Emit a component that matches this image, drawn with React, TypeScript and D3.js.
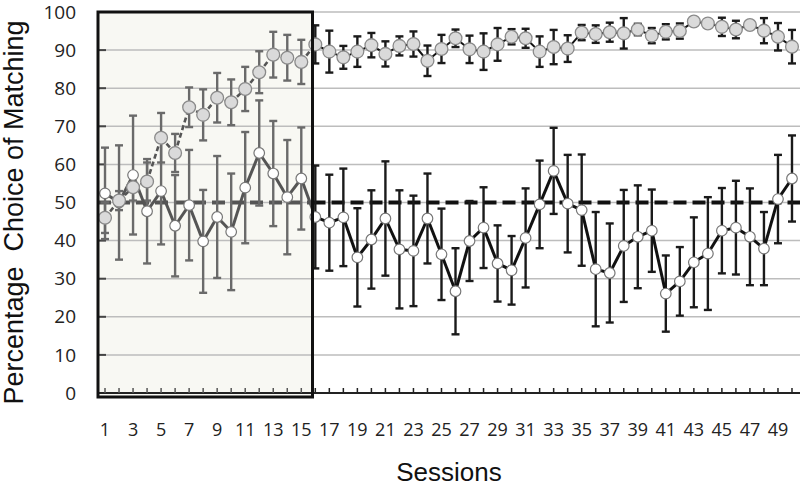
import * as d3 from "d3";

// sessions 1..50
const sessions = d3.range(1, 51);
const tickSessions = d3.range(1, 50, 2);
const yTicks = d3.range(0, 101, 10);
const gridTicks = d3.range(10, 101, 10);

// grey markers (matching series)
const greyMean = [
  46, 50.5, 54, 55.5, 67, 63, 75, 73, 77.5, 76.3,
  79.8, 84.2, 88.8, 88, 86.9, 91.5, 89.6, 88.1, 89.6, 91.3,
  89, 91.1, 91.6, 87.2, 90.3, 93.1, 90.2, 89.6, 91.5, 93.5,
  93.1, 89.6, 90.8, 90.4, 94.6, 94.2, 94.7, 94.4, 95.4, 93.8,
  94.8, 95, 97.5, 97, 96.1, 95.4, 96.6, 95.1, 93.5, 90.9,
];
const greyErr = [
  4, 2.5, 3.5, 5, 6.5, 5, 5.2, 6.7, 6.5, 6,
  5.8, 5.5, 6, 6, 5.8, 5, 5.5, 3, 4, 3.2,
  3.3, 2.5, 3.3, 4, 3.7, 2.3, 3.6, 4.8, 4.3, 2,
  2.5, 4, 4.5, 3.5, 2, 2.3, 2.5, 4, 1.5, 2,
  2, 2, 1, 1, 2.4, 2.3, 1, 3.3, 3.6, 4.4,
];

// white markers
const whiteMean = [
  52.4, 50, 57.2, 47.7, 53, 43.9, 49.3, 39.8, 46.2, 42.3,
  53.9, 63, 57.6, 51.4, 56.3, 46.2, 44.7, 46.1, 35.6, 40.3,
  45.8, 37.7, 37.3, 45.8, 36.4, 26.7, 39.9, 43.4, 34, 32.2,
  40.7, 49.5, 58.3, 49.7, 48, 32.5, 31.5, 38.6, 41, 42.6,
  26.1, 29.3, 34.3, 36.6, 42.6, 43.4, 41, 37.9, 50.9, 56.3,
];
const whiteErr = [
  12, 15, 15.6, 13.7, 14, 13.3, 14.5, 13.5, 16, 15.3,
  14.6, 13.8, 13.8, 15, 13.4, 13.5, 12.6, 12.8, 12.9, 12.9,
  15, 15.5, 14.5, 11.8, 12, 11.3, 10.5, 10.6, 10, 9,
  13, 11.5, 11.3, 12.8, 14.6, 15, 13, 14.7, 13.5, 10.8,
  10, 9, 11.8, 14.8, 11.2, 12.3, 12.7, 9.6, 11.6, 11.3,
];

const chance = 50;
const baselineEnd = 15.8; // shaded baseline phase

export default function App() {
  const W = 800,
    H = 487;
  const x = d3.scaleLinear().domain([0.5, 50.5]).range([98, 799]);
  const y = d3.scaleLinear().domain([0, 100]).range([393, 12]);

  const inBox = (s: number) => s <= 15;
  const barColor = (s: number) => (inBox(s) ? "#6a6a6a" : "#1a1a1a");
  const lineColor = (s: number) => (inBox(s) ? "#555" : "#111");

  const errBar = (s: number, m: number, e: number, key: string) => (
    <g key={key} stroke={barColor(s)} strokeWidth={2.4}>
      <line x1={x(s)} x2={x(s)} y1={y(m - e)} y2={y(m + e)} />
      <line x1={x(s) - 4} x2={x(s) + 4} y1={y(m - e)} y2={y(m - e)} />
      <line x1={x(s) - 4} x2={x(s) + 4} y1={y(m + e)} y2={y(m + e)} />
    </g>
  );

  const pairs = d3.pairs(sessions);

  return (
    <svg
      width={W}
      height={H}
      style={{ position: "absolute", left: 0, top: 0, background: "#fff" }}
    >
      {/* baseline shading */}
      <rect
        x={x(0.5)}
        y={y(100)}
        width={x(baselineEnd) - x(0.5)}
        height={397 - y(100)}
        fill="#f8f8f3"
      />
      {/* gridlines */}
      {gridTicks.map((t) => (
        <line key={t} x1={x(0.5)} x2={W} y1={y(t)} y2={y(t)} stroke="#bdbdbd" strokeWidth={1.5} />
      ))}
      {/* y ticks inside */}
      {gridTicks.map((t) => (
        <line key={"yt" + t} x1={x(0.5)} x2={x(0.5) + 8} y1={y(t)} y2={y(t)} stroke="#444" strokeWidth={2} />
      ))}
      {/* x axis */}
      <line x1={x(0.5)} x2={W} y1={y(0)} y2={y(0)} stroke="#222" strokeWidth={2} />
      {sessions.map((s) => (
        <line key={"xt" + s} x1={x(s)} x2={x(s)} y1={y(0)} y2={y(0) - 5} stroke={inBox(s) ? "#555" : "#222"} strokeWidth={1.5} />
      ))}
      {/* chance line */}
      <line
        x1={x(0.5)}
        x2={x(baselineEnd)}
        y1={y(chance)}
        y2={y(chance)}
        stroke="#555"
        strokeWidth={4}
        strokeDasharray="13,6"
      />
      <line
        x1={x(baselineEnd)}
        x2={W}
        y1={y(chance)}
        y2={y(chance)}
        stroke="#111"
        strokeWidth={4}
        strokeDasharray="13,6"
      />
      {/* error bars */}
      {sessions.map((s, i) => errBar(s, whiteMean[i], whiteErr[i], "we" + s))}
      {sessions.map((s, i) => errBar(s, greyMean[i], greyErr[i], "ge" + s))}
      {/* white series line */}
      {pairs.map(([a, b]) => (
        <line
          key={"wl" + a}
          x1={x(a)}
          x2={x(b)}
          y1={y(whiteMean[a - 1])}
          y2={y(whiteMean[b - 1])}
          stroke={lineColor(a)}
          strokeWidth={3}
        />
      ))}
      {/* grey series line */}
      {pairs.map(([a, b]) => (
        <line
          key={"gl" + a}
          x1={x(a)}
          x2={x(b)}
          y1={y(greyMean[a - 1])}
          y2={y(greyMean[b - 1])}
          stroke={lineColor(a)}
          strokeWidth={inBox(a) ? 2.6 : 2}
          strokeDasharray={inBox(a) ? "5,3" : undefined}
        />
      ))}
      {/* markers */}
      {sessions.map((s, i) => (
        <circle key={"wc" + s} cx={x(s)} cy={y(whiteMean[i])} r={5.3} fill="#fff" stroke="#777" strokeWidth={1.2} />
      ))}
      {sessions.map((s, i) => (
        <circle key={"gc" + s} cx={x(s)} cy={y(greyMean[i])} r={6.4} fill="#dadada" stroke="#8a8a8a" strokeWidth={1.3} />
      ))}
      {/* baseline frame */}
      <rect
        x={x(0.5)}
        y={y(100)}
        width={x(baselineEnd) - x(0.5)}
        height={397 - y(100)}
        fill="none"
        stroke="#111"
        strokeWidth={3}
      />
      {/* tick labels */}
      {yTicks.map((t) => (
        <text
          key={"yl" + t}
          x={76}
          y={y(t)}
          dy="0.35em"
          textAnchor="end"
          fontFamily="Open Sans"
          fontSize={19}
          fill="#222"
        >
          {t}
        </text>
      ))}
      {tickSessions.map((s) => (
        <text
          key={"xl" + s}
          x={x(s)}
          y={436}
          textAnchor="middle"
          fontFamily="Open Sans"
          fontSize={18}
          fill="#222"
        >
          {s}
        </text>
      ))}
      <text
        x={449}
        y={481}
        textAnchor="middle"
        fontFamily="Liberation Sans"
        fontSize={26}
        fill="#111"
      >
        Sessions
      </text>
      <text
        transform={`translate(23,${(20 + 405) / 2}) rotate(-90)`}
        textAnchor="middle"
        fontFamily="Liberation Sans"
        fontSize={27}
        fill="#111"
        xmlSpace="preserve"
      >
        {"Percentage  Choice of Matching"}
      </text>
    </svg>
  );
}
